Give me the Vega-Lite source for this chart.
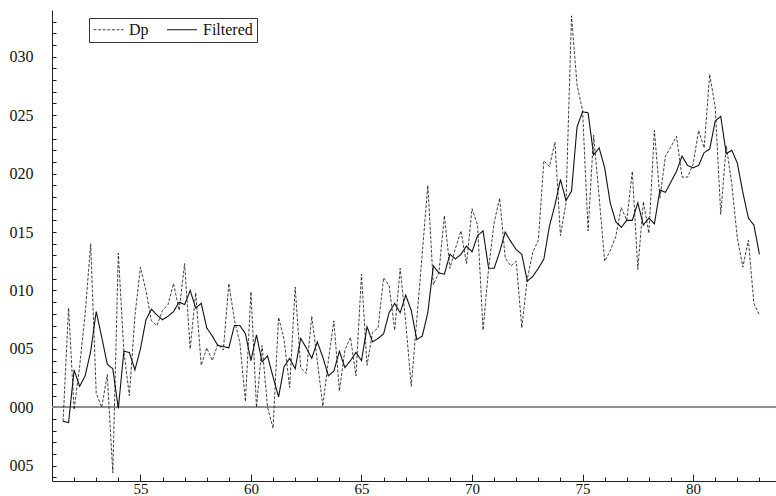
{
  "$schema": "https://vega.github.io/schema/vega-lite/v6.json",
  "width": 724,
  "height": 471,
  "autosize": {"type": "none"},
  "padding": {"left": 52, "top": 10, "right": 0, "bottom": 15},
  "background": "white",
  "config": {
    "view": {"stroke": null},
    "font": "Liberation Serif, Times New Roman, DejaVu Serif, serif",
    "axis": {"labelFont": "Liberation Serif, Times New Roman, DejaVu Serif, serif", "labelFontSize": 16, "labelColor": "#111", "domainColor": "#222", "tickColor": "#222", "grid": false, "title": null, "labelOverlap": false, "labelFlush": false}
  },
  "data": {
    "values": [
      {"t":51.5,"Dp":-0.0012,"Filtered":-0.0012},{"t":51.75,"Dp":0.0085,"Filtered":-0.0013},{"t":52.0,"Dp":-0.0002,"Filtered":0.0032},{"t":52.25,"Dp":0.0035,"Filtered":0.0018},
      {"t":52.5,"Dp":0.0080,"Filtered":0.0027},{"t":52.75,"Dp":0.0140,"Filtered":0.0048},{"t":53.0,"Dp":0.0012,"Filtered":0.0082},{"t":53.25,"Dp":0.0000,"Filtered":0.0060},
      {"t":53.5,"Dp":0.0028,"Filtered":0.0037},{"t":53.75,"Dp":-0.0056,"Filtered":0.0033},{"t":54.0,"Dp":0.0132,"Filtered":-0.0001},{"t":54.25,"Dp":0.0048,"Filtered":0.0048},
      {"t":54.5,"Dp":0.0010,"Filtered":0.0047},{"t":54.75,"Dp":0.0078,"Filtered":0.0032},{"t":55.0,"Dp":0.0120,"Filtered":0.0050},{"t":55.25,"Dp":0.0100,"Filtered":0.0075},
      {"t":55.5,"Dp":0.0074,"Filtered":0.0084},{"t":55.75,"Dp":0.0070,"Filtered":0.0079},{"t":56.0,"Dp":0.0083,"Filtered":0.0075},{"t":56.25,"Dp":0.0088,"Filtered":0.0078},
      {"t":56.5,"Dp":0.0106,"Filtered":0.0082},{"t":56.75,"Dp":0.0083,"Filtered":0.0090},{"t":57.0,"Dp":0.0123,"Filtered":0.0088},{"t":57.25,"Dp":0.0050,"Filtered":0.0100},
      {"t":57.5,"Dp":0.0098,"Filtered":0.0085},{"t":57.75,"Dp":0.0036,"Filtered":0.0089},{"t":58.0,"Dp":0.0051,"Filtered":0.0068},{"t":58.25,"Dp":0.0040,"Filtered":0.0061},
      {"t":58.5,"Dp":0.0054,"Filtered":0.0053},{"t":58.75,"Dp":0.0049,"Filtered":0.0052},{"t":59.0,"Dp":0.0106,"Filtered":0.0051},{"t":59.25,"Dp":0.0075,"Filtered":0.0070},
      {"t":59.5,"Dp":0.0055,"Filtered":0.0070},{"t":59.75,"Dp":0.0005,"Filtered":0.0063},{"t":60.0,"Dp":0.0099,"Filtered":0.0040},{"t":60.25,"Dp":0.0000,"Filtered":0.0062},
      {"t":60.5,"Dp":0.0053,"Filtered":0.0039},{"t":60.75,"Dp":0.0000,"Filtered":0.0044},{"t":61.0,"Dp":-0.0018,"Filtered":0.0026},{"t":61.25,"Dp":0.0077,"Filtered":0.0009},
      {"t":61.5,"Dp":0.0058,"Filtered":0.0035},{"t":61.75,"Dp":0.0017,"Filtered":0.0042},{"t":62.0,"Dp":0.0103,"Filtered":0.0033},{"t":62.25,"Dp":0.0034,"Filtered":0.0059},
      {"t":62.5,"Dp":0.0029,"Filtered":0.0051},{"t":62.75,"Dp":0.0078,"Filtered":0.0042},{"t":63.0,"Dp":0.0040,"Filtered":0.0056},{"t":63.25,"Dp":0.0001,"Filtered":0.0043},
      {"t":63.5,"Dp":0.0040,"Filtered":0.0027},{"t":63.75,"Dp":0.0074,"Filtered":0.0031},{"t":64.0,"Dp":0.0014,"Filtered":0.0048},{"t":64.25,"Dp":0.0049,"Filtered":0.0034},
      {"t":64.5,"Dp":0.0060,"Filtered":0.0040},{"t":64.75,"Dp":0.0027,"Filtered":0.0047},{"t":65.0,"Dp":0.0114,"Filtered":0.0040},{"t":65.25,"Dp":0.0036,"Filtered":0.0069},
      {"t":65.5,"Dp":0.0064,"Filtered":0.0056},{"t":65.75,"Dp":0.0068,"Filtered":0.0059},{"t":66.0,"Dp":0.0111,"Filtered":0.0063},{"t":66.25,"Dp":0.0104,"Filtered":0.0081},
      {"t":66.5,"Dp":0.0066,"Filtered":0.0089},{"t":66.75,"Dp":0.0119,"Filtered":0.0081},{"t":67.0,"Dp":0.0073,"Filtered":0.0096},{"t":67.25,"Dp":0.0018,"Filtered":0.0083},
      {"t":67.5,"Dp":0.0075,"Filtered":0.0058},{"t":67.75,"Dp":0.0132,"Filtered":0.0061},{"t":68.0,"Dp":0.0190,"Filtered":0.0081},{"t":68.25,"Dp":0.0105,"Filtered":0.0121},
      {"t":68.5,"Dp":0.0115,"Filtered":0.0115},{"t":68.75,"Dp":0.0164,"Filtered":0.0114},{"t":69.0,"Dp":0.0119,"Filtered":0.0131},{"t":69.25,"Dp":0.0136,"Filtered":0.0127},
      {"t":69.5,"Dp":0.0151,"Filtered":0.0131},{"t":69.75,"Dp":0.0123,"Filtered":0.0138},{"t":70.0,"Dp":0.0170,"Filtered":0.0133},{"t":70.25,"Dp":0.0156,"Filtered":0.0147},
      {"t":70.5,"Dp":0.0066,"Filtered":0.0151},{"t":70.75,"Dp":0.0119,"Filtered":0.0119},{"t":71.0,"Dp":0.0158,"Filtered":0.0119},{"t":71.25,"Dp":0.0179,"Filtered":0.0133},
      {"t":71.5,"Dp":0.0128,"Filtered":0.0150},{"t":71.75,"Dp":0.0121,"Filtered":0.0142},{"t":72.0,"Dp":0.0125,"Filtered":0.0135},{"t":72.25,"Dp":0.0068,"Filtered":0.0131},
      {"t":72.5,"Dp":0.0110,"Filtered":0.0108},{"t":72.75,"Dp":0.0133,"Filtered":0.0112},{"t":73.0,"Dp":0.0143,"Filtered":0.0119},{"t":73.25,"Dp":0.0211,"Filtered":0.0127},
      {"t":73.5,"Dp":0.0206,"Filtered":0.0155},{"t":73.75,"Dp":0.0227,"Filtered":0.0173},{"t":74.0,"Dp":0.0147,"Filtered":0.0195},{"t":74.25,"Dp":0.0175,"Filtered":0.0177},
      {"t":74.5,"Dp":0.0335,"Filtered":0.0185},{"t":74.75,"Dp":0.0276,"Filtered":0.0240},{"t":75.0,"Dp":0.0254,"Filtered":0.0253},{"t":75.25,"Dp":0.0151,"Filtered":0.0252},
      {"t":75.5,"Dp":0.0233,"Filtered":0.0216},{"t":75.75,"Dp":0.0180,"Filtered":0.0222},{"t":76.0,"Dp":0.0125,"Filtered":0.0205},{"t":76.25,"Dp":0.0134,"Filtered":0.0175},
      {"t":76.5,"Dp":0.0146,"Filtered":0.0159},{"t":76.75,"Dp":0.0171,"Filtered":0.0154},{"t":77.0,"Dp":0.0160,"Filtered":0.0160},{"t":77.25,"Dp":0.0202,"Filtered":0.0160},
      {"t":77.5,"Dp":0.0118,"Filtered":0.0175},{"t":77.75,"Dp":0.0176,"Filtered":0.0156},{"t":78.0,"Dp":0.0149,"Filtered":0.0162},{"t":78.25,"Dp":0.0237,"Filtered":0.0157},
      {"t":78.5,"Dp":0.0179,"Filtered":0.0186},{"t":78.75,"Dp":0.0215,"Filtered":0.0184},{"t":79.0,"Dp":0.0223,"Filtered":0.0193},{"t":79.25,"Dp":0.0232,"Filtered":0.0202},
      {"t":79.5,"Dp":0.0197,"Filtered":0.0215},{"t":79.75,"Dp":0.0197,"Filtered":0.0207},{"t":80.0,"Dp":0.0208,"Filtered":0.0205},{"t":80.25,"Dp":0.0237,"Filtered":0.0207},
      {"t":80.5,"Dp":0.0222,"Filtered":0.0218},{"t":80.75,"Dp":0.0285,"Filtered":0.0221},{"t":81.0,"Dp":0.0257,"Filtered":0.0245},{"t":81.25,"Dp":0.0165,"Filtered":0.0249},
      {"t":81.5,"Dp":0.0224,"Filtered":0.0217},{"t":81.75,"Dp":0.0191,"Filtered":0.0220},{"t":82.0,"Dp":0.0145,"Filtered":0.0209},{"t":82.25,"Dp":0.0120,"Filtered":0.0184},
      {"t":82.5,"Dp":0.0143,"Filtered":0.0162},{"t":82.75,"Dp":0.0089,"Filtered":0.0156},{"t":83.0,"Dp":0.0079,"Filtered":0.0131}
    ]
  },
  "transform": [{"fold": ["Dp", "Filtered"], "as": ["series", "value"]}],
  "resolve": {"axis": {"x": "independent", "y": "independent"}},
  "layer": [
    {
      "mark": {"type": "rule", "color": "#9b8c88", "strokeWidth": 1},
      "encoding": {"y": {"datum": 0, "type": "quantitative", "scale": {"domain": [-0.0063, 0.034], "nice": false, "zero": false}, "axis": null}}
    },
    {
      "mark": {"type": "line", "strokeOpacity": 0},
      "encoding": {
        "x": {
          "field": "t", "type": "quantitative",
          "scale": {"domain": [51, 83.75], "nice": false, "zero": false},
          "axis": {
            "orient": "top",
            "offset": -471,
            "domain": false,
            "labels": false,
            "ticks": true,
            "values": [52,53,54,56,57,58,59,61,62,63,64,66,67,68,69,71,72,73,74,76,77,78,79,81,82,83],
            "tickSize": 4,
            "tickWidth": 1,
            "tickColor": "#222"
          }
        },
        "y": {
          "field": "value", "type": "quantitative",
          "scale": {"domain": [-0.0063, 0.034], "nice": false, "zero": false},
          "axis": {
            "orient": "right",
            "offset": -724,
            "domain": false,
            "labels": false,
            "ticks": true,
            "values": [-0.006,-0.005,-0.004,-0.003,-0.002,-0.001,0,0.001,0.002,0.003,0.004,0.005,0.006,0.007,0.008,0.009,0.01,0.011,0.012,0.013,0.014,0.015,0.016,0.017,0.018,0.019,0.02,0.021,0.022,0.023,0.024,0.025,0.026,0.027,0.028,0.029,0.03,0.031,0.032,0.033],
            "tickSize": 4,
            "tickWidth": 1,
            "tickColor": "#222"
          }
        },
        "detail": {"field": "series", "type": "nominal"}
      }
    },
    {
      "mark": {"type": "line", "strokeOpacity": 0},
      "encoding": {
        "x": {
          "field": "t", "type": "quantitative",
          "scale": {"domain": [51, 83.75], "nice": false, "zero": false},
          "axis": {
            "orient": "top",
            "offset": -471,
            "domain": false,
            "labels": false,
            "ticks": true,
            "values": [55,60,65,70,75,80],
            "tickSize": 7,
            "tickWidth": 1,
            "tickColor": "#222"
          }
        },
        "y": {
          "field": "value", "type": "quantitative",
          "scale": {"domain": [-0.0063, 0.034], "nice": false, "zero": false},
          "axis": null
        },
        "detail": {"field": "series", "type": "nominal"}
      }
    },
    {
      "mark": {"type": "line", "color": "#111"},
      "encoding": {
        "x": {
          "field": "t", "type": "quantitative",
          "scale": {"domain": [51, 83.75], "nice": false, "zero": false},
          "axis": {
            "orient": "bottom",
            "values": [55,60,65,70,75,80],
            "ticks": false,
            "labelPadding": 0,
            "labelFontSize": 15,
            "domainWidth": 1
          }
        },
        "y": {
          "field": "value", "type": "quantitative",
          "scale": {"domain": [-0.0063, 0.034], "nice": false, "zero": false},
          "axis": {
            "orient": "left",
            "values": [-0.005, 0, 0.005, 0.01, 0.015, 0.02, 0.025, 0.03],
            "labelExpr": "format(abs(datum.value*1000), '03d')",
            "ticks": false,
            "labelPadding": 19,
            "domainWidth": 1
          }
        },
        "strokeDash": {
          "field": "series", "type": "nominal",
          "scale": {"domain": ["Dp", "Filtered"], "range": [[3, 1.6], [1, 0]]},
          "legend": {
            "title": null,
            "orient": "none",
            "legendX": 37,
            "legendY": 8,
            "direction": "horizontal",
            "strokeColor": "#333",
            "fillColor": "white",
            "padding": 4,
            "labelFont": "Liberation Serif, Times New Roman, DejaVu Serif, serif",
            "labelFontSize": 16,
            "labelColor": "#111",
            "labelExpr": "datum.value == 'Filtered' ? 'Filtered\\u2003\\u2002' : datum.label",
            "symbolType": "stroke",
            "symbolStrokeWidth": 1,
            "symbolStrokeColor": "#111",
            "symbolSize": 900,
            "clipHeight": 15,
            "labelOffset": 5,
            "columnPadding": 17
          }
        },
        "strokeWidth": {
          "field": "series", "type": "nominal",
          "scale": {"domain": ["Dp", "Filtered"], "range": [0.8, 1.1]},
          "legend": null
        }
      }
    }
  ]
}
